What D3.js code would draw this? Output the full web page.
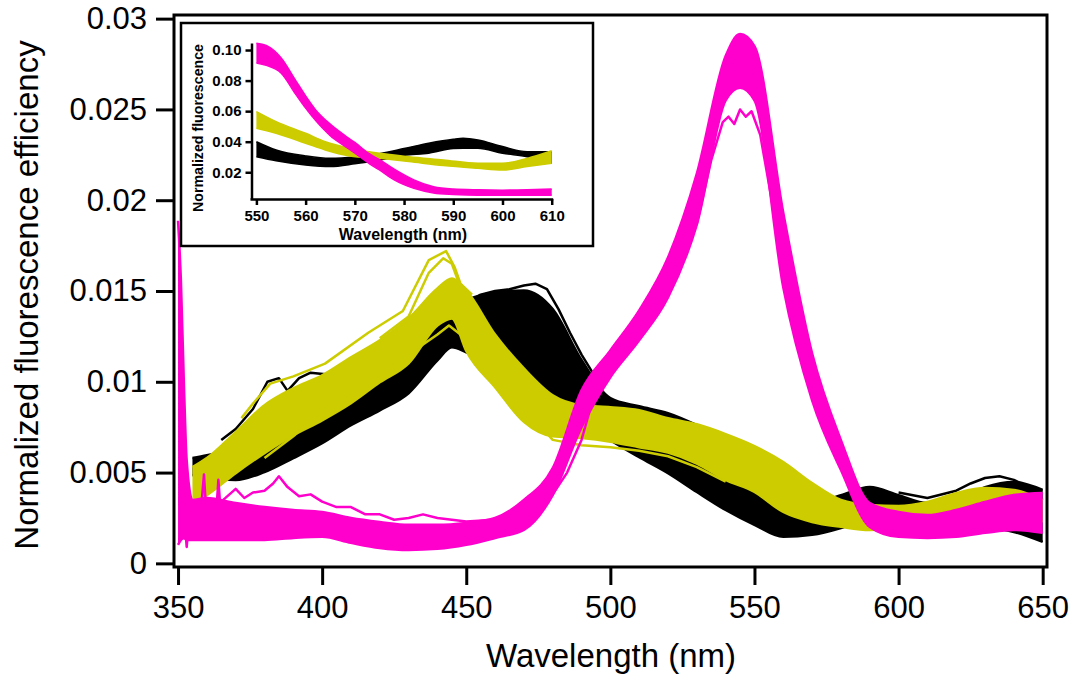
<!DOCTYPE html>
<html><head><meta charset="utf-8">
<script src="https://cdn.jsdelivr.net/npm/d3@7"></script>
<style>body{margin:0;background:#fff}</style>
</head><body><svg id="c" width="1076" height="677"></svg>
<script>
// ---------------- DATA ----------------
// Main chart: envelopes of the three bundles of spectra
const mainWl = [355,360,370,380,390,400,410,420,430,440,445,450,460,470,480,490,500,510,520,530,540,550,560,570,580,590,600,610,620,630,640,650];
const blackUpper = [0.00580,0.00596,0.00613,0.00679,0.00761,0.00843,0.00926,0.01008,0.01118,0.01327,0.01349,0.01448,0.01492,0.01503,0.01400,0.01120,0.00910,0.00865,0.00827,0.00761,0.00679,0.00514,0.00376,0.00332,0.00376,0.00420,0.00376,0.00332,0.00349,0.00420,0.00448,0.00404];
const blackLower = [0.00486,0.00470,0.00459,0.00503,0.00580,0.00662,0.00761,0.00843,0.00937,0.01118,0.01190,0.01162,0.01074,0.00981,0.00926,0.00788,0.00679,0.00585,0.00497,0.00393,0.00294,0.00212,0.00146,0.00157,0.00195,0.00250,0.00277,0.00250,0.00223,0.00201,0.00173,0.00118];
const yellowUpper = [0.00530,0.00580,0.00723,0.00871,0.00964,0.01036,0.01135,0.01228,0.01349,0.01514,0.01569,0.01503,0.01260,0.01074,0.00926,0.00871,0.00860,0.00843,0.00799,0.00766,0.00712,0.00646,0.00558,0.00442,0.00349,0.00321,0.00316,0.00338,0.00387,0.00415,0.00404,0.00349];
const yellowLower = [0.00332,0.00376,0.00497,0.00607,0.00706,0.00788,0.00882,0.00997,0.01102,0.01310,0.01349,0.01170,0.00970,0.00780,0.00700,0.00690,0.00670,0.00640,0.00610,0.00550,0.00460,0.00393,0.00283,0.00228,0.00201,0.00184,0.00195,0.00228,0.00255,0.00283,0.00294,0.00228];
const magentaWl = [350,351,352,353,355,360,370,380,390,400,410,420,430,440,450,460,470,480,490,500,510,520,530,540,545,550,560,570,580,590,600,610,620,630,640,650];
const magentaUpper = [0.01887,0.01558,0.01008,0.00569,0.00349,0.00360,0.00332,0.00310,0.00294,0.00283,0.00250,0.00228,0.00212,0.00212,0.00223,0.00250,0.00349,0.00525,0.00953,0.01173,0.01393,0.01684,0.02146,0.02794,0.02915,0.02849,0.01931,0.01157,0.00679,0.00332,0.00283,0.00266,0.00294,0.00338,0.00376,0.00387];
const magentaLower = [0.00102,0.00129,0.00140,0.00129,0.00129,0.00129,0.00129,0.00129,0.00140,0.00146,0.00113,0.00085,0.00074,0.00080,0.00102,0.00140,0.00184,0.00376,0.00750,0.01025,0.01228,0.01464,0.01865,0.02550,0.02620,0.02550,0.01519,0.00898,0.00514,0.00201,0.00146,0.00140,0.00146,0.00168,0.00184,0.00168];

// Main chart: individual curves that stand out of the bundles
const blackTopWl = [450,455,460,465,470,474,478,482,486,490,495];
const blackTopV  = [0.0143,0.0148,0.0150,0.0151,0.0153,0.0154,0.0151,0.0140,0.0127,0.0115,0.0102];
const blackLeftWl = [365,370,376,381,385,388,392,396,402,410];
const blackLeftV  = [0.0068,0.0074,0.0085,0.0100,0.0102,0.0095,0.0102,0.0105,0.0104,0.0110];
const blackRightWl = [600,610,620,625,630,635,640,645,650];
const blackRightV  = [0.0039,0.0036,0.0040,0.0044,0.0047,0.0048,0.0046,0.0042,0.0035];
const yellowTopWl = [372,376,382,390,401,416,428,437,443,446,448,452];
const yellowTopV  = [0.0080,0.0088,0.0099,0.0103,0.0110,0.0127,0.0139,0.0167,0.0172,0.0163,0.0154,0.0148];
const yellowTop2Wl = [420,430,437,442,445,448,451];
const yellowTop2V  = [0.0124,0.0136,0.0160,0.0168,0.0165,0.0152,0.0148];
const yellowLowWl = [380,390,400,410,420,430,440,444,448,455,465,475,480,490,500,510,520,530,540];
const yellowLowV  = [0.0058,0.0070,0.0084,0.0094,0.0104,0.0115,0.0126,0.0131,0.0126,0.0112,0.0092,0.0077,0.0068,0.0065,0.0064,0.0062,0.0059,0.0053,0.0045];
const magentaSpikyWl = [351,352,353,354,355,356,357,358,359,360,361,362,363,364,365,367,370];
const magentaSpikyV  = [0.0120,0.0030,0.0009,0.0028,0.0018,0.0033,0.0014,0.0030,0.0049,0.0022,0.0026,0.0031,0.0022,0.0046,0.0024,0.0030,0.0027];
const magentaHighWl = [360,365,370,373,376,380,383,385,388,392,396,400,405,410,415,420,425,430,435,440,445,450,460,470,480,485,490,493,497,500];
const magentaHighV  = [0.0030,0.0034,0.0041,0.0036,0.0039,0.0040,0.0044,0.0048,0.0042,0.0037,0.0038,0.0034,0.0031,0.0031,0.0027,0.0027,0.0024,0.0025,0.0027,0.0025,0.0024,0.0023,0.0024,0.0028,0.0038,0.0050,0.0068,0.0085,0.0098,0.0104];
const magentaLowPeakWl = [530,535,539,541,543,545,547,549,552,556,560];
const magentaLowPeakV  = [0.0187,0.0222,0.0243,0.0246,0.0242,0.0250,0.0246,0.0249,0.0236,0.0200,0.0155];

// Inset (550-610 nm)
const insetBlackWl = [550,554,560,565,570,575,580,585,590,592,595,600,605,610];
const insetBlackUpper = [0.0400,0.0346,0.0307,0.0291,0.0300,0.0322,0.0355,0.0390,0.0416,0.0422,0.0411,0.0368,0.0335,0.0335];
const insetBlackLower = [0.0302,0.0276,0.0248,0.0237,0.0255,0.0280,0.0310,0.0325,0.0355,0.0357,0.0357,0.0324,0.0302,0.0259];
const insetYellowWl = [550,554,560,564,569,575,581,588,595,600,605,610];
const insetYellowUpper = [0.0597,0.0531,0.0455,0.0400,0.0357,0.0324,0.0302,0.0281,0.0259,0.0259,0.0291,0.0341];
const insetYellowLower = [0.0488,0.0455,0.0390,0.0346,0.0307,0.0291,0.0270,0.0244,0.0226,0.0215,0.0237,0.0259];
const insetMagentaWl = [550,552,555,558,560,562,565,568,570,573,575,578,582,586,590,595,600,605,610];
const insetMagentaUpper = [0.1045,0.1030,0.0950,0.0800,0.0700,0.0610,0.0515,0.0440,0.0395,0.0320,0.0282,0.0220,0.0150,0.0105,0.0090,0.0085,0.0083,0.0085,0.0090];
const insetMagentaLower = [0.0915,0.0900,0.0850,0.0710,0.0620,0.0540,0.0440,0.0370,0.0325,0.0255,0.0215,0.0150,0.0095,0.0065,0.0055,0.0050,0.0050,0.0050,0.0050];

// Ticks
const xTicks = [350,400,450,500,550,600,650];
const xTickLabels = ["350","400","450","500","550","600","650"];
const yTicks = [0,0.005,0.01,0.015,0.02,0.025,0.03];
const yTickLabels = ["0","0.005","0.01","0.015","0.02","0.025","0.03"];
const insetXTicks = [550,560,570,580,590,600,610];
const insetYTicks = [0.02,0.04,0.06,0.08,0.10];
const insetYTickLabels = ["0.02","0.04","0.06","0.08","0.10"];

const colBlack = "#000000", colYellow = "#cccc00", colMagenta = "#ff00cc";

// ---------------- DRAWING ----------------
const FONT = '"Liberation Sans", Arial, Helvetica, sans-serif';
const svg = d3.select('#c');
const x = d3.scaleLinear().domain([348.6, 651.5]).range([174, 1047]);
const y = d3.scaleLinear().domain([-0.0002, 0.0302]).range([567, 15]);

svg.append('defs').append('clipPath').attr('id','clipMain')
  .append('rect').attr('x',174).attr('y',15).attr('width',873).attr('height',552);

const plot = svg.append('g').attr('clip-path','url(#clipMain)');

function drawBand(g, xs, ys, wl, lo, hi, color, sw) {
  const data = wl.map((w,i)=>({w, lo:lo[i], hi:hi[i]}));
  const curve = d3.curveMonotoneX;
  g.append('path').datum(data)
    .attr('d', d3.area().x(d=>xs(d.w)).y0(d=>ys(d.lo)).y1(d=>ys(d.hi)).curve(curve))
    .attr('fill', color).attr('stroke','none');
  ['lo','hi'].forEach(k=>{
    g.append('path').datum(data)
      .attr('d', d3.line().x(d=>xs(d.w)).y(d=>ys(d[k])).curve(curve))
      .attr('fill','none').attr('stroke',color).attr('stroke-width',sw).attr('stroke-linejoin','round');
  });
}
function drawLine(g, xs, ys, wl, v, color, sw) {
  const data = wl.map((w,i)=>({w, v:v[i]}));
  g.append('path').datum(data)
    .attr('d', d3.line().x(d=>xs(d.w)).y(d=>ys(d.v)))
    .attr('fill','none').attr('stroke',color).attr('stroke-width',sw).attr('stroke-linejoin','round');
}

drawBand(plot, x, y, mainWl, blackLower, blackUpper, colBlack, 2.5);
drawLine(plot, x, y, blackTopWl, blackTopV, colBlack, 2.5);
drawLine(plot, x, y, blackLeftWl, blackLeftV, colBlack, 2.5);
drawLine(plot, x, y, blackRightWl, blackRightV, colBlack, 2.5);
drawBand(plot, x, y, mainWl, yellowLower, yellowUpper, colYellow, 2.5);
drawLine(plot, x, y, yellowTopWl, yellowTopV, colYellow, 2.5);
drawLine(plot, x, y, yellowTop2Wl, yellowTop2V, colYellow, 2.5);
drawLine(plot, x, y, yellowLowWl, yellowLowV, colYellow, 2.5);
drawBand(plot, x, y, magentaWl, magentaLower, magentaUpper, colMagenta, 2.5);
drawLine(plot, x, y, magentaSpikyWl, magentaSpikyV, colMagenta, 2.5);
drawLine(plot, x, y, magentaHighWl, magentaHighV, colMagenta, 2.5);
drawLine(plot, x, y, magentaLowPeakWl, magentaLowPeakV, colMagenta, 2.5);

// main axes
const xAxis = svg.append('g').attr('transform','translate(0,567)')
  .call(d3.axisBottom(x).tickValues(xTicks).tickFormat((d,i)=>xTickLabels[i]).tickSize(18).tickSizeOuter(0).tickPadding(11));
const yAxis = svg.append('g').attr('transform','translate(174,0)')
  .call(d3.axisLeft(y).tickValues(yTicks).tickFormat((d,i)=>yTickLabels[i]).tickSize(18).tickSizeOuter(0).tickPadding(9));
[xAxis,yAxis].forEach(a=>{
  a.select('.domain').remove();
  a.selectAll('.tick line').attr('stroke','#000').attr('stroke-width',3);
  a.selectAll('.tick text').attr('font-family',FONT).attr('font-size',31).attr('fill','#000');
});
svg.append('rect').attr('x',174).attr('y',15).attr('width',873).attr('height',552)
  .attr('fill','none').attr('stroke','#000').attr('stroke-width',3);

svg.append('text').attr('x',611).attr('y',667).attr('text-anchor','middle')
  .attr('font-family',FONT).attr('font-size',33).text('Wavelength (nm)');
svg.append('text').attr('transform','translate(38,295) rotate(-90)').attr('text-anchor','middle')
  .attr('font-family',FONT).attr('font-size',33).text('Normalized fluorescence efficiency');

// ---------------- INSET ----------------
svg.append('rect').attr('x',181).attr('y',23).attr('width',412).attr('height',223)
  .attr('fill','#fff').attr('stroke','#000').attr('stroke-width',2.5);
const ix = d3.scaleLinear().domain([548.7, 610.2]).range([250, 552.7]);
const iy = d3.scaleLinear().domain([0.0025, 0.1046]).range([199, 43]);
const inset = svg.append('g');
drawBand(inset, ix, iy, insetBlackWl, insetBlackLower, insetBlackUpper, colBlack, 1.5);
drawBand(inset, ix, iy, insetYellowWl, insetYellowLower, insetYellowUpper, colYellow, 1.5);
drawBand(inset, ix, iy, insetMagentaWl, insetMagentaLower, insetMagentaUpper, colMagenta, 1.5);

const ixAxis = svg.append('g').attr('transform','translate(0,199)')
  .call(d3.axisBottom(ix).tickValues(insetXTicks).tickFormat(d=>String(d)).tickSize(6).tickSizeOuter(0).tickPadding(5));
const iyAxis = svg.append('g').attr('transform','translate(251.5,0)')
  .call(d3.axisLeft(iy).tickValues(insetYTicks).tickFormat((d,i)=>insetYTickLabels[i]).tickSize(6).tickSizeOuter(0).tickPadding(4));
[ixAxis,iyAxis].forEach(a=>{
  a.select('.domain').attr('stroke','#000').attr('stroke-width',2.5);
  a.selectAll('.tick line').attr('stroke','#000').attr('stroke-width',2.5);
  a.selectAll('.tick text').attr('font-family',FONT).attr('font-size',15).attr('font-weight','bold').attr('fill','#000');
});
svg.append('text').attr('x',403).attr('y',239.5).attr('text-anchor','middle')
  .attr('font-family',FONT).attr('font-size',16).attr('font-weight','bold').text('Wavelength (nm)');
svg.append('text').attr('transform','translate(203,128) rotate(-90)').attr('text-anchor','middle')
  .attr('font-family',FONT).attr('font-size',14.2).attr('font-weight','bold').text('Normalized fluorescence');
</script>
</body></html>
